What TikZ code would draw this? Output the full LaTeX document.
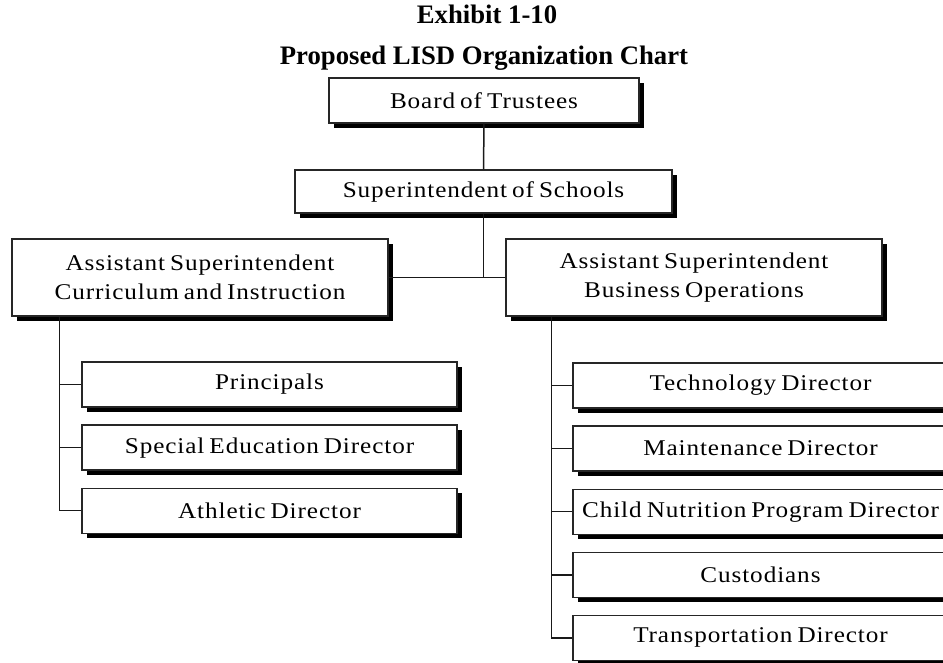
\documentclass[tikz,border=0pt]{standalone}
\usepackage{fontspec}
\setmainfont{Liberation Serif}
\newfontfamily\chartfont[FakeStretch=1.12,LetterSpace=4,WordSpace=0.7]{Liberation Serif}
\usepackage{tikz}
\usetikzlibrary{positioning,shadows}

\begin{document}
\begin{tikzpicture}[x=1pt,y=-1pt,node distance=16.8pt,
  font=\chartfont\fontsize{22.5}{29}\selectfont]
\tikzstyle{box}=[draw=black!85,line width=1.3pt,fill=white,align=center,minimum height=45pt,inner sep=2pt,
  drop shadow={shadow xshift=5pt,shadow yshift=-5pt,fill=black,opacity=1}]
\tikzstyle{link}=[draw=black!90,line width=1.5pt]
\useasboundingbox (0,0) rectangle (943,662);
\clip (0,0) rectangle (943,662);
% title
\node[font=\rmfamily\bfseries\fontsize{26.7}{30}\selectfont,anchor=base] (title1) at (487,23) {Exhibit 1-10};
\node[font=\rmfamily\bfseries\fontsize{26.7}{30}\selectfont,anchor=base] (title2) at (484,64) {Proposed LISD Organization Chart};
% top of the chart
\node[box,minimum width=310pt] (board) at (484,100.5) {Board of Trustees};
\node[box,minimum width=377pt,minimum height=43pt] (super) at (483.5,191.5) {Superintendent of Schools};
\node[box,minimum width=376pt,minimum height=77pt] (asstci) at (200,277.5) {Assistant Superintendent\\Curriculum and Instruction};
\node[box,minimum width=376pt,minimum height=77pt] (asstbo) at (694,277.5) {Assistant Superintendent\\Business Operations};
% curriculum side
\node[box,minimum width=375pt] (principals) at (269.5,384.5) {Principals};
\node[box,minimum width=375pt,below=of principals] (specialed) {Special Education Director};
\node[box,minimum width=375pt,below=of specialed] (athletic) {Athletic Director};
% business side
\node[box,minimum width=375pt] (techdir) at (760.5,385.5) {Technology Director};
\node[box,minimum width=375pt,below=of techdir] (maintdir) {Maintenance Director};
\node[box,minimum width=375pt,below=of maintdir] (nutrition) {Child Nutrition Program Director};
\node[box,minimum width=375pt,below=of nutrition] (custodians) {Custodians};
\node[box,minimum width=375pt,below=of custodians] (transport) {Transportation Director};
% lines
\draw[link] (board) -- (super);
\draw[link] (super) -- (super |- asstci);
\draw[link] (asstci) -- (asstbo);
\coordinate (spineL) at ([xshift=48pt]asstci.south west);
\coordinate (spineR) at ([xshift=46pt]asstbo.south west);
\draw[link] (spineL) |- (athletic.west);
\foreach \n in {principals,specialed}
  \draw[link] (spineL |- \n.west) -- (\n.west);
\draw[link] (spineR) |- (transport.west);
\foreach \n in {techdir,maintdir,nutrition,custodians}
  \draw[link] (spineR |- \n.west) -- (\n.west);
\end{tikzpicture}
\end{document}
